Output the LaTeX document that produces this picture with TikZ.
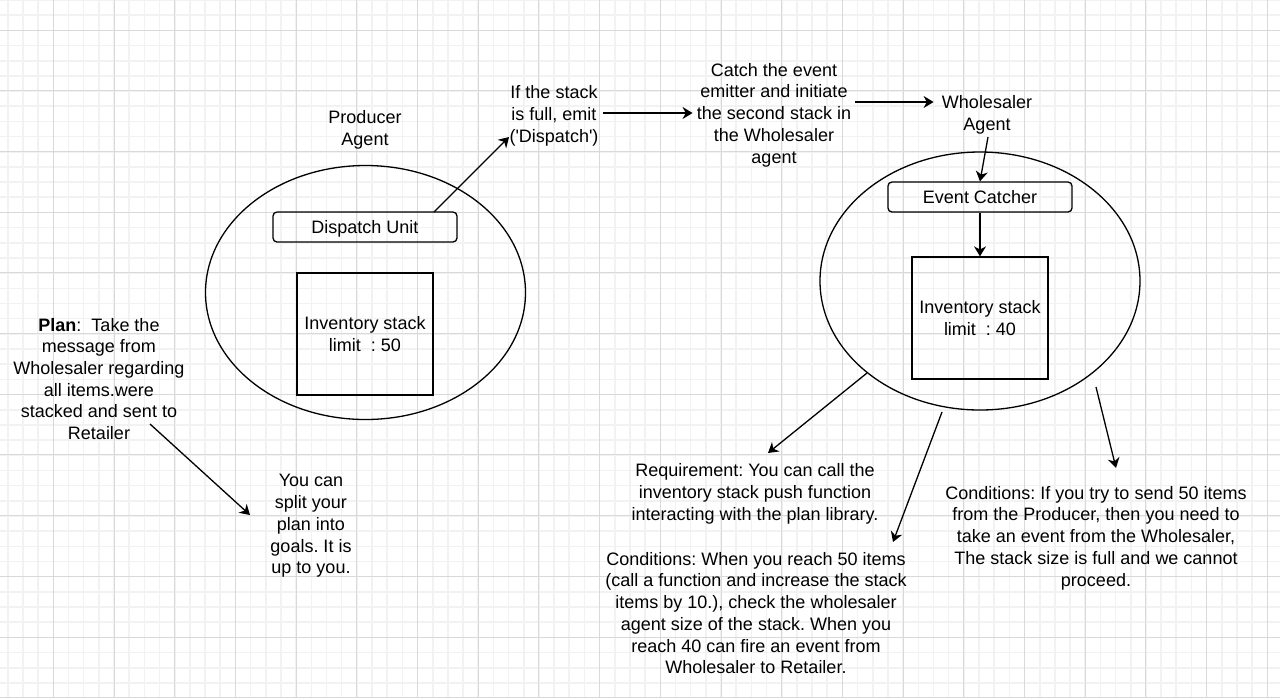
\documentclass[tikz,border=0pt]{standalone}
\usepackage{fontspec}
\setmainfont{Liberation Sans}
\usepackage{tikz}
\usetikzlibrary{arrows.meta,shapes.geometric,calc}
\frenchspacing

\begin{document}
\begin{tikzpicture}[x=0.5pt,y=-0.5pt,
		font=\fontsize{9}{10.85}\selectfont,
		minorgrid/.style={line width=0.8pt, black!5},
		majorgrid/.style={line width=0.45pt, black!15},
		agent/.style={draw, ellipse, line width=0.65pt, inner sep=0pt},
		unit/.style={draw, rounded corners=2pt, line width=0.65pt, minimum width=92pt, minimum height=15pt, inner sep=0pt, text height=6.6pt, text depth=0pt},
		stack/.style={draw, line width=0.65pt, minimum width=68pt, minimum height=61pt, align=center, inner sep=0pt},
		txt/.style={align=center, inner sep=2pt},
		arr/.style={line width=0.65pt, -{Stealth[length=5pt, width=6pt, inset=1.6pt]}}]
		\useasboundingbox (0,0) rectangle (1280,698);
		\fill[white] (0,0) rectangle (1280,698);
		\draw[minorgrid, shift={(7.8,0)}] (-7.8,0) grid[step=7.5875pt] (1272.2,698);
		\draw[majorgrid, shift={(53.3,30)}] (-53.3,-30) grid[step=30.35pt] (1226.7,668);

		\node[agent, minimum width=160pt, minimum height=127pt] (producer) at (365.5,292.5) {};
		\node[unit] (dispatch) at (365,227) {Dispatch Unit};
		\node[stack] (invP) at (365,334) {Inventory stack\\limit\ \ : 50};
		\node[txt] (prodLabel) at (365,130) {Producer\\Agent};
		\node[txt] (ifFull) at (554,116) {If the stack\\is full, emit\\(\textquotesingle Dispatch\textquotesingle)};
		\node[txt] (catchTxt) at (774,115) {Catch the event\\emitter and initiate\\the second stack in\\the Wholesaler\\agent};
		\node[txt] (wsLabel) at (987,115) {Wholesaler\\Agent};

		\node[agent, minimum width=160pt, minimum height=129pt] (wholesaler) at (980,281) {};
		\node[unit] (catcher) at (980,197) {Event Catcher};
		\node[stack] (invW) at (980,318) {Inventory stack\\limit\ \ : 40};

		\node[txt] (plan) at (99,379) {\textbf{Plan}:\ \ Take the\\message from\\Wholesaler regarding\\all items.were\\stacked and sent to\\Retailer};
		\node[txt] (split) at (311,526) {You can\\split your\\plan into\\goals. It is\\up to you.};
		\node[txt] (req) at (755,494) {Requirement: You can call the\\inventory stack push function\\interacting with the plan library.};
		\node[txt] (condW) at (756,613) {Conditions: When you reach 50 items\\(call a function and increase the stack\\items by 10.), check the wholesaler\\agent size of the stack. When you\\reach 40 can fire an event from\\Wholesaler to Retailer.};
		\node[txt] (condF) at (1096,538) {Conditions: If you try to send 50 items\\from the Producer, then you need to\\take an event from the Wholesaler,\\The stack size is full and we cannot\\proceed.};

		\draw[arr] ($(dispatch.center)+(69,-15)$) -- ($(ifFull.center)+(-45,21)$);
		\draw[arr] ($(ifFull.east)+(0,-3)$) -- ($(catchTxt.west)+(0,-2)$);
		\draw[arr] ($(catchTxt.east)+(0,-13)$) -- ($(wsLabel.west)+(-4,-13)$);
		\draw[arr] ($(wsLabel.center)+(1,22)$) -- (catcher.north);
		\draw[arr] (catcher.south) -- (invW.north);
		\draw[arr] ($(wholesaler.center)+(-113,92)$) -- ($(req.center)+(13,-41)$);
		\draw[arr] ($(wholesaler.center)+(-38,131)$) -- ($(condW.center)+(137,-71)$);
		\draw[arr] ($(wholesaler.center)+(116,106)$) -- ($(condF.center)+(20,-70)$);
		\draw[arr] ($(plan.center)+(51,45)$) -- ($(split.center)+(-61,-11)$);
	\end{tikzpicture}
\end{document}
